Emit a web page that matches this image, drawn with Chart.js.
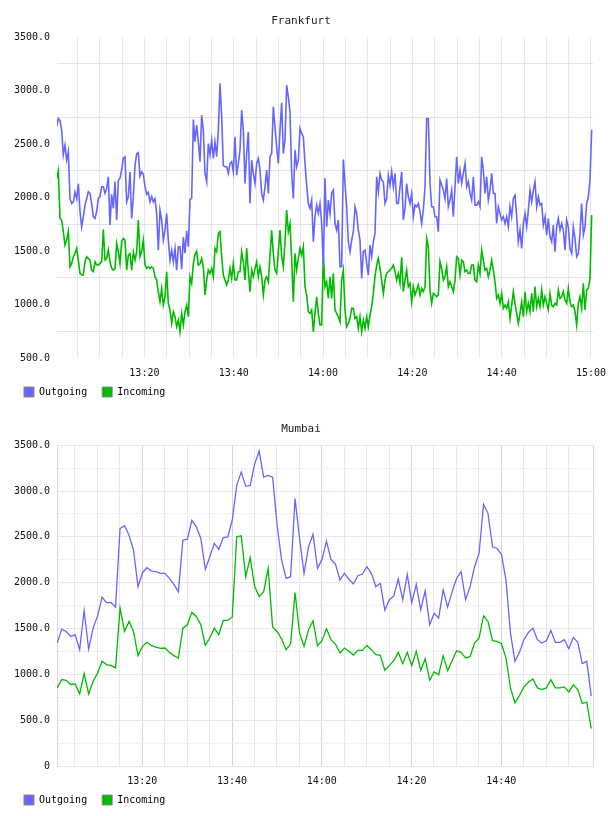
<!DOCTYPE html>
<html><head><meta charset="utf-8">
<script src="https://cdn.jsdelivr.net/npm/chart.js@4/dist/chart.umd.min.js"></script>
<style>
html,body{margin:0;padding:0;background:#fff;overflow:hidden;width:608px;height:816px}
canvas{display:block}
</style></head><body>
<canvas id="fra" width="608" height="408"></canvas>
<canvas id="mum" width="608" height="408"></canvas>
<script>
// ---- data (time = minutes after 13:00) ----
const seriesNames = ['Outgoing', 'Incoming'];
const xTickMinutes = [20, 40, 60, 80, 100, 120];
const xTickLabels = ['13:20', '13:40', '14:00', '14:20', '14:40', '15:00'];

const fraTitle = 'Frankfurt';
const fraStartMin = 0.355;     // first sample, minutes after 13:00
const fraStepMin = 0.3732;     // sample interval (~22.4 s)
const fraOutgoing = [
2662,2740,2720,2630,2400,2490,2350,2430,1990,1945,
1960,2050,1990,2130,1870,1727,1820,1930,1990,2054,
2040,1945,1820,1805,1870,1990,2010,2100,2100,2040,
2086,2195,1745,2030,1900,2150,1790,2160,2180,2260,
2370,2380,1960,2010,2240,1805,2000,2300,2410,2420,
2200,2240,2220,2100,2030,2050,1960,2010,1960,1990,
1852,1509,1883,1790,1603,1696,1852,1603,1416,1509,
1400,1525,1322,1540,1540,1330,1630,1480,1690,1540,
1980,1992,2730,2522,2678,2522,2335,2771,2631,2226,
2148,2506,2400,2537,2366,2522,2382,2631,3067,2755,
2300,2288,2288,2226,2319,2335,2242,2569,2210,2319,
2444,2818,2631,2132,2413,2615,1945,2350,2226,2132,
2319,2366,2257,2039,1977,2101,2257,2039,2382,2413,
2849,2662,2475,2319,2631,2886,2413,2537,3051,2942,
2800,2226,1992,2444,2288,2350,2646,2600,2569,2319,
2117,1945,1899,1977,1587,1821,1930,1852,1945,1758,
1360,2180,1727,1977,1852,2040,2070,1760,1696,1790,
1353,1353,2357,2132,1914,1587,1494,1603,1681,1914,
1852,1696,1603,1245,1494,1509,1385,1276,1556,1447,
1587,1665,2195,2055,2226,2164,2148,1945,1992,2210,
2117,2242,2101,2226,1945,1945,2101,2242,1790,1900,
2132,2008,1945,2039,1821,1930,1914,1945,1868,1758,
1883,2101,2740,2740,2132,1914,1914,1821,1821,1681,
2164,2117,2070,1990,2179,1914,1977,2070,1821,2101,
2382,2132,2257,2132,2226,2319,2101,2148,2039,1977,
2195,1930,1930,1961,1914,2382,2257,2039,2195,1977,
2070,2226,2039,2039,1758,1914,1852,1790,1821,1758,
1821,1727,1914,1821,1992,2023,1821,1587,1696,1525,
1758,1852,1727,1883,2070,1961,2070,2148,1914,2008,
1930,1945,1743,1821,1650,1805,1634,1587,1743,1494,
1727,1805,1696,1758,1696,1509,1790,1727,1525,1478,
1727,1618,1447,1478,1665,1945,1650,1727,1945,2008,
2164,2634];
const fraIncoming = [
2180,2250,1805,1790,1681,1556,1603,1681,1353,1385,
1447,1478,1525,1416,1291,1276,1276,1400,1447,1431,
1416,1322,1307,1400,1369,1369,1385,1400,1702,1416,
1431,1509,1400,1338,1322,1338,1572,1494,1385,1587,
1618,1603,1322,1462,1478,1322,1494,1416,1494,1790,
1447,1494,1600,1369,1338,1353,1338,1353,1338,1260,
1229,1120,1026,1151,995,1073,1307,1011,949,824,
933,886,793,855,746,917,808,933,995,886,
1260,1200,1380,1470,1500,1369,1380,1431,1353,1089,
1229,1322,1291,1338,1260,1525,1494,1665,1681,1447,
1276,1229,1182,1229,1338,1245,1385,1229,1229,1307,
1307,1494,1400,1229,1525,1307,1120,1322,1260,1338,
1400,1260,1353,1260,1089,1229,1260,1213,1462,1696,
1478,1322,1291,1494,1696,1447,1353,1587,1883,1681,
1758,1416,1026,1478,1322,1431,1525,1462,1540,1167,
1089,933,917,949,746,917,1073,917,808,808,
1462,1167,1213,1058,1260,1058,1291,949,917,886,
839,1229,1322,949,793,824,871,964,964,871,
886,777,886,746,855,777,886,793,902,980,
1104,1260,1369,1431,1338,1229,1104,1229,1291,1307,
1322,1338,1369,1307,1229,1291,1198,1441,1120,1229,
1322,1167,1198,1026,1167,1089,1136,1182,1089,1151,
1120,1167,1618,1540,1136,1011,1104,1089,1073,1089,
1400,1338,1229,1260,1353,1167,1213,1167,1120,1229,
1447,1431,1276,1416,1400,1307,1322,1291,1291,1369,
1369,1229,1213,1369,1291,1509,1416,1322,1338,1260,
1322,1416,1322,1213,1058,1089,1011,1104,964,995,
964,1026,871,995,1120,1011,917,824,917,1026,
886,1120,933,1011,933,1104,933,1167,980,1058,
980,1136,995,1073,1011,949,1104,995,980,1011,
995,1136,1058,1073,1120,1042,1011,1151,1026,980,
995,933,808,1011,1073,964,1198,949,1136,1151,
1245,1836];

const mumTitle = 'Mumbai';
const mumStartMin = 1.05;
const mumStepMin = 1;
const mumOutgoing = [
1341,1493,1468,1414,1432,1269,1696,1276,1504,1638,
1841,1783,1783,1733,2591,2623,2518,2355,1957,2109,
2163,2127,2120,2102,2102,2047,1982,1902,2464,2475,
2681,2609,2482,2145,2283,2428,2363,2493,2500,2681,
3062,3207,3051,3062,3297,3435,3152,3170,3152,2627,
2247,2047,2065,2917,2482,2102,2391,2529,2156,2254,
2453,2254,2203,2029,2102,2037,1986,2076,2094,2174,
2102,1957,1993,1700,1812,1856,2040,1812,2091,1780,
1982,1705,1910,1541,1667,1613,1921,1733,1902,2047,
2120,1815,1957,2174,2319,2855,2754,2391,2373,2308,
2029,1450,1142,1240,1378,1457,1504,1378,1341,1367,
1479,1349,1349,1378,1280,1403,1349,1117,1142,762];
const mumIncoming = [
852,943,935,889,896,787,1008,787,925,1015,
1142,1106,1095,1070,1722,1468,1577,1468,1204,1305,
1349,1312,1298,1283,1287,1240,1204,1178,1504,1541,
1675,1631,1541,1316,1396,1504,1432,1588,1588,1624,
2500,2511,2065,2272,1957,1848,1902,2156,1515,1468,
1385,1269,1330,1892,1450,1305,1486,1584,1312,1367,
1497,1378,1330,1233,1287,1251,1211,1262,1262,1316,
1269,1215,1207,1044,1095,1149,1240,1117,1240,1095,
1251,1044,1171,936,1026,997,1204,1041,1149,1258,
1240,1178,1196,1341,1396,1638,1577,1367,1360,1334,
1178,852,689,769,863,914,950,852,834,852,
943,852,852,863,809,885,834,682,696,407];

// ---- styling ----
const FONT = 'DejaVu Sans Mono';
const OUT_COLOR = '#6666ff';
const IN_COLOR = '#00bb00';

function toPoints(vals, start, step) {
  return vals.map((v, i) => ({ x: start + i * step, y: v }));
}
function xLabel(v) {
  const k = xTickMinutes.findIndex(m => Math.abs(m - v) < 1e-6);
  return k >= 0 ? xTickLabels[k] : '';
}
function isMajorX(v) { return xTickMinutes.some(m => Math.abs(m - v) < 1e-6); }

// moves the legend up to sit just under the time labels
const legendShift = {
  id: 'legendShift',
  afterLayout(chart) {
    const l = chart.legend;
    if (l) { l.top -= 9; l.bottom -= 9; }
  }
};

function makeChart(id, title, xmin, xmax, gridMinutes, ymin, yGrid, xGrid, framed, outPts, inPts, lw) {
  const scales = {
    x: {
      type: 'linear', min: xmin, max: xmax,
      afterBuildTicks: s => { s.ticks = gridMinutes.map(v => ({ value: v })); },
      afterFit: s => { s.height = 23; s.paddingLeft = 0; s.paddingRight = 0; },
      ticks: { autoSkip: false, maxRotation: 0, padding: 9, color: '#111',
               font: { family: FONT, size: 10 }, callback: v => xLabel(v) },
      grid: { drawTicks: false, color: c => xGrid(c.tick ? c.tick.value : 0), lineWidth: 1 },
      border: { display: false }
    },
    y: {
      min: ymin, max: 3500,
      afterFit: s => { s.width = 48; },
      ticks: { stepSize: 250, autoSkip: false, padding: 7, color: '#111',
               font: { family: FONT, size: 10 },
               callback: v => (v % 500 === 0 ? (v === 0 ? '0' : v.toFixed(1)) : '') },
      grid: { drawTicks: false, color: c => yGrid(c.tick ? c.tick.value : 0), lineWidth: 1 },
      border: framed ? { display: true, color: '#e6cfe6', width: 1 } : { display: false }
    }
  };
  if (framed) {
    scales.yr = {
      position: 'right', min: ymin, max: 3500, display: true,
      afterFit: s => { s.width = 0; },
      ticks: { display: false }, grid: { display: false },
      border: { display: true, color: '#e6cfe6', width: 1 }
    };
  }
  return new Chart(document.getElementById(id), {
    type: 'line',
    data: {
      datasets: [
        { label: seriesNames[0], data: outPts, borderColor: OUT_COLOR, backgroundColor: OUT_COLOR,
          borderWidth: lw, pointRadius: 0, tension: 0, fill: false },
        { label: seriesNames[1], data: inPts, borderColor: IN_COLOR, backgroundColor: IN_COLOR,
          borderWidth: lw, pointRadius: 0, tension: 0, fill: false }
      ]
    },
    plugins: [legendShift],
    options: {
      responsive: false, animation: false, devicePixelRatio: 1,
      layout: { padding: { left: 9, right: 15, top: 0, bottom: 1 } },
      scales,
      plugins: {
        tooltip: { enabled: false },
        title: { display: true, text: title, color: '#222',
                 font: { family: FONT, size: 11, weight: 'normal' },
                 padding: { top: 15, bottom: 9 } },
        legend: {
          position: 'bottom', align: 'start', maxHeight: 26,
          labels: {
            boxWidth: 10, boxHeight: 10, padding: 15, color: '#000',
            font: { family: FONT, size: 10 },
            generateLabels: ch => ch.data.datasets.map((d, i) => ({
              text: d.label, fillStyle: d.borderColor, strokeStyle: '#8a8a8a',
              lineWidth: 1, hidden: false, datasetIndex: i, fontColor: '#000'
            }))
          }
        }
      }
    }
  });
}

const fraGrid = [];
for (let m = 5; m <= 120; m += 5) fraGrid.push(m);
const mumGrid = [];
for (let m = 5; m <= 115; m += 5) mumGrid.push(m);

makeChart('fra', fraTitle, 0.43, 120.45, fraGrid, 500,
  v => (v % 500 === 0 ? 'rgba(0,0,0,0)' : '#e2e2e2'),
  v => '#e8e8e8',
  false,
  toPoints(fraOutgoing, fraStartMin, fraStepMin),
  toPoints(fraIncoming, fraStartMin, fraStepMin), 1.6);

makeChart('mum', mumTitle, 1.0, 120.44, mumGrid, 0,
  v => (v % 500 === 0 ? '#f0e2f0' : '#f1f1f1'),
  v => (isMajorX(v) ? '#e2cde2' : '#e8e8e8'),
  true,
  toPoints(mumOutgoing, mumStartMin, mumStepMin),
  toPoints(mumIncoming, mumStartMin, mumStepMin), 1.3);
</script>
</body></html>
